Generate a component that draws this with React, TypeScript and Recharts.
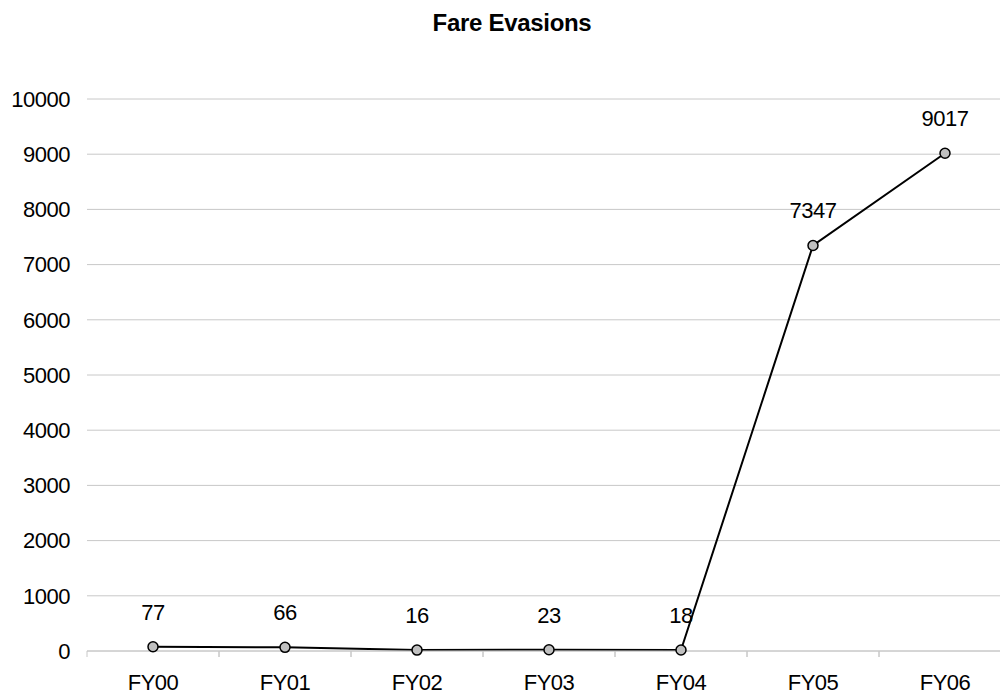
import { LineChart, Line, XAxis, YAxis, CartesianGrid, LabelList } from "recharts";

const years = ["FY00", "FY01", "FY02", "FY03", "FY04", "FY05", "FY06"];
const evasions = [77, 66, 16, 23, 18, 7347, 9017];
const yTicks = [0, 1000, 2000, 3000, 4000, 5000, 6000, 7000, 8000, 9000, 10000];

const data = years.map((fy, i) => ({ fy, value: evasions[i] }));

const FONT = "'Liberation Sans', Arial, sans-serif";

// category label plus short tick marks at the band edges
function XTick(props: any) {
  const { x, y, payload } = props;
  const off = payload?.offset ?? 0;
  return (
    <g>
      <line x1={x - off} x2={x - off} y1={y} y2={y + 6} stroke="#c8c8c8" />
      <line x1={x + off} x2={x + off} y1={y} y2={y + 6} stroke="#c8c8c8" />
      <text x={x} y={y + 39} textAnchor="middle" fontSize={22} letterSpacing={-0.5} fontFamily={FONT} fill="#000">
        {payload.value}
      </text>
    </g>
  );
}

function ValueLabel(props: any) {
  const { x, y, width, value } = props;
  const cx = x + (width ?? 0) / 2;
  return (
    <text x={cx} y={y - 27} textAnchor="middle" fontSize={22} letterSpacing={-0.5} fontFamily={FONT} fill="#000">
      {value}
    </text>
  );
}

export default function App() {
  return (
    <div
      style={{
        position: "absolute",
        left: 0,
        top: 0,
        width: 1000,
        height: 697,
        overflow: "hidden",
        background: "#fff",
      }}
    >
      <div
        style={{
          position: "absolute",
          left: 0,
          top: 9,
          width: 1024,
          textAlign: "center",
          fontFamily: FONT,
          fontWeight: "bold",
          fontSize: 24,
          letterSpacing: -0.3,
          color: "#000",
        }}
      >
        Fare Evasions
      </div>
      <LineChart
        width={1012}
        height={697}
        data={data}
        margin={{ top: 99, right: 1, left: 0, bottom: 0 }}
      >
        <CartesianGrid vertical={false} stroke="#c8c8c8" />
        <XAxis
          dataKey="fy"
          scale="band"
          height={46}
          tickSize={0}
          tickMargin={0}
          axisLine={{ stroke: "#c8c8c8" }}
          tickLine={false}
          tick={<XTick />}
          interval={0}
        />
        <YAxis
          width={87}
          domain={[0, 10000]}
          ticks={yTicks}
          axisLine={false}
          tickLine={false}
          tickSize={0}
          tickMargin={17}
          tick={{ fontSize: 22, fontFamily: FONT, fill: "#000", letterSpacing: -0.5 }}
        />
        <Line
          dataKey="value"
          stroke="#000"
          strokeWidth={2}
          dot={{ r: 5, fill: "#c0c0c0", stroke: "#000", strokeWidth: 1.5 }}
          isAnimationActive={false}
        >
          <LabelList dataKey="value" content={<ValueLabel />} />
        </Line>
      </LineChart>
    </div>
  );
}
